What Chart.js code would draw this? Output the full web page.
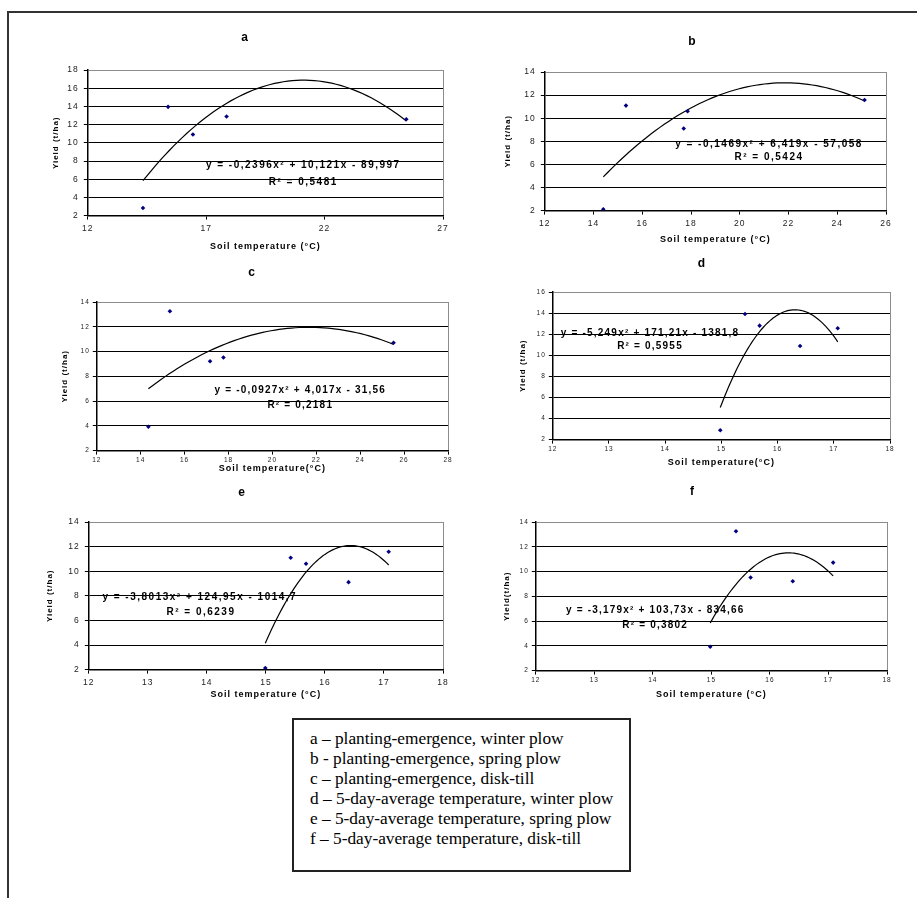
<!DOCTYPE html>
<html>
<head>
<meta charset="utf-8">
<title>Yield vs soil temperature</title>
<script src="https://cdn.jsdelivr.net/npm/chart.js@4.4.1/dist/chart.umd.min.js"></script>
<style>
  body { margin: 0; background: #fff; width: 917px; height: 898px; position: relative; overflow: hidden; }
  .frame { position: absolute; left: 7px; top: 11px; width: 1000px; height: 1000px; border-left: 2px solid #333; border-top: 2px solid #333; }
  canvas.panel { position: absolute; }
  .key {
    position: absolute; left: 292px; top: 718px; width: 339px; height: 154px; box-sizing: border-box;
    border: 2px solid #222; padding: 9px 0 0 16px;
    font-family: "Liberation Serif", "Times New Roman", serif; font-size: 17.3px; line-height: 20px; color: #000;
    white-space: nowrap;
  }
</style>
</head>
<body>
<div class="frame"></div>
<div id="panels"></div>
<div class="key" id="key"></div>

<script>
// Data: soil temperature (°C) vs yield (t/ha)
const aTemp  = [14.33, 15.39, 16.44, 17.86, 25.45];
const aYield = [2.84, 13.95, 10.91, 12.89, 12.59];
const bTemp  = [14.40, 15.33, 17.70, 17.86, 25.12];
const bYield = [2.12, 11.09, 9.11, 10.60, 11.58];
const cTemp  = [14.35, 15.33, 17.16, 17.77, 25.52];
const cYield = [3.93, 13.25, 9.22, 9.52, 10.71];
const dTemp  = [14.98, 15.42, 15.68, 16.40, 17.07];
const dYield = [2.88, 13.92, 12.81, 10.88, 12.56];
const eTemp  = [14.99, 15.42, 15.68, 16.40, 17.08];
const eYield = [2.12, 11.09, 10.60, 9.11, 11.58];
const fTemp  = [14.98, 15.42, 15.67, 16.39, 17.08];
const fYield = [3.93, 13.25, 9.52, 9.22, 10.72];

// Polynomial trend coefficients [x², x, const], as printed on each panel
const aCoef = [-0.2396, 10.121, -89.997];
const bCoef = [-0.1469, 6.419, -57.058];
const cCoef = [-0.0927, 4.017, -31.56];
const dCoef = [-5.249, 171.21, -1381.8];
const eCoef = [-3.8013, 124.95, -1014.7];
const fCoef = [-3.179, 103.73, -834.66];

const aEquation = ['y = -0,2396x² + 10,121x - 89,997', 'R² = 0,5481'];
const bEquation = ['y = -0,1469x² + 6,419x - 57,058', 'R² = 0,5424'];
const cEquation = ['y = -0,0927x² + 4,017x - 31,56', 'R² = 0,2181'];
const dEquation = ['y = -5,249x² + 171,21x - 1381,8', 'R² = 0,5955'];
const eEquation = ['y = -3,8013x² + 124,95x - 1014,7', 'R² = 0,6239'];
const fEquation = ['y = -3,179x² + 103,73x - 834,66', 'R² = 0,3802'];

// Tick labels
const aXTicks = [12, 17, 22, 27];
const bXTicks = [12, 14, 16, 18, 20, 22, 24, 26];
const cXTicks = [12, 14, 16, 18, 20, 22, 24, 26, 28];
const dXTicks = [12, 13, 14, 15, 16, 17, 18];
const eXTicks = [12, 13, 14, 15, 16, 17, 18];
const fXTicks = [12, 13, 14, 15, 16, 17, 18];
const yTicks18 = [2, 4, 6, 8, 10, 12, 14, 16, 18];
const yTicks16 = [2, 4, 6, 8, 10, 12, 14, 16];
const yTicks14 = [2, 4, 6, 8, 10, 12, 14];

const xTitles = ['Soil temperature (°C)', 'Soil temperature (°C)', 'Soil temperature(°C)',
                 'Soil temperature(°C)', 'Soil temperature (°C)', 'Soil temperature (°C)'];
const yTitles = ['Yield (t/ha)', 'Yield (t/ha)', 'Yield (t/ha)', 'Yield (t/ha)', 'Yield (t/ha)', 'Yield(t/ha)'];

const legendLines = [
  'a – planting-emergence, winter plow',
  'b - planting-emergence, spring plow',
  'c – planting-emergence, disk-till',
  'd – 5-day-average temperature, winter plow',
  'e – 5-day-average temperature, spring plow',
  'f – 5-day-average temperature, disk-till'
];

// Layout of each panel: plot area box, title/axis-title positions, label positions (data units)
const panels = [
  { name: 'a', temp: aTemp, yld: aYield, coef: aCoef, eq: aEquation, xTicks: aXTicks, yTicks: yTicks18,
    L: 88, T: 70, R: 443, B: 216, titleY: 38, xTitleY: 247, yTitleX: 56, tickSize: 8.5, tickPad: 4,
    eqSpacing: 1.5, eqPos: [[21.1, 7.5], [21.1, 5.65]] },
  { name: 'b', temp: bTemp, yld: bYield, coef: bCoef, eq: bEquation, xTicks: bXTicks, yTicks: yTicks14,
    L: 545, T: 72, R: 886, B: 211, titleY: 42, xTitleY: 240, yTitleX: 508, tickSize: 8.5, tickPad: 4,
    eqSpacing: 1.5, eqPos: [[21.2, 7.74], [21.2, 6.6]] },
  { name: 'c', temp: cTemp, yld: cYield, coef: cCoef, eq: cEquation, xTicks: cXTicks, yTicks: yTicks14,
    L: 97, T: 302, R: 448, B: 451, titleY: 273, xTitleY: 469, yTitleX: 65, tickSize: 6.5, tickPad: 2,
    eqSpacing: 1.2, eqPos: [[21.27, 6.86], [21.27, 5.7]] },
  { name: 'd', temp: dTemp, yld: dYield, coef: dCoef, eq: dEquation, xTicks: dXTicks, yTicks: yTicks16,
    L: 553, T: 292, R: 890, B: 440, titleY: 264, xTitleY: 463, yTitleX: 523, tickSize: 6.5, tickPad: 2,
    eqSpacing: 1.2, eqPos: [[13.73, 12.1], [13.73, 10.9]] },
  { name: 'e', temp: eTemp, yld: eYield, coef: eCoef, eq: eEquation, xTicks: eXTicks, yTicks: yTicks14,
    L: 89, T: 522, R: 443, B: 670, titleY: 493, xTitleY: 695, yTitleX: 50, tickSize: 8.5, tickPad: 4,
    eqSpacing: 1.5, eqPos: [[13.88, 7.9], [13.9, 6.65]] },
  { name: 'f', temp: fTemp, yld: fYield, coef: fCoef, eq: fEquation, xTicks: fXTicks, yTicks: yTicks14,
    L: 536, T: 522, R: 887, B: 671, titleY: 492, xTitleY: 695, yTitleX: 507, tickSize: 6.5, tickPad: 2,
    eqSpacing: 1.2, eqPos: [[14.04, 6.84], [14.04, 5.68]] }
];

const FONT = '"Liberation Sans", Arial, sans-serif';

// Trend curve drawn from the printed regression equation over the data's x range
function trendPoints(coef, xs) {
  const lo = Math.min(...xs), hi = Math.max(...xs);
  const pts = [];
  for (let i = 0; i <= 60; i++) {
    const x = lo + (hi - lo) * i / 60;
    pts.push({ x: x, y: coef[0] * x * x + coef[1] * x + coef[2] });
  }
  return pts;
}

// Wide letter spacing like the original Excel export
const spacingPlugin = {
  id: 'spacing',
  beforeDraw(chart) { chart.ctx.letterSpacing = '1px'; }
};

// Regression equation + R² text
const equationText = {
  id: 'equationText',
  afterDatasetsDraw(chart, args, opts) {
    const ctx = chart.ctx;
    ctx.save();
    ctx.font = 'bold 10px ' + FONT;
    ctx.letterSpacing = opts.spacing + 'px';
    ctx.fillStyle = '#000';
    ctx.textAlign = 'center';
    ctx.textBaseline = 'middle';
    opts.lines.forEach(l => {
      ctx.fillText(l.text, chart.scales.x.getPixelForValue(l.x), chart.scales.y.getPixelForValue(l.y));
    });
    ctx.restore();
  }
};

function makePanel(p, idx) {
  const canvasLeft = p.yTitleX - 8.8;
  const canvasTop = p.titleY - 12;
  const yw = p.L - canvasLeft;
  const th = p.T - canvasTop;
  const xh = p.xTitleY - p.B + 5.4 + 4;
  const rightPad = 12;
  const w = Math.round(p.R - canvasLeft + rightPad);
  const h = Math.round(p.B - canvasTop + xh);

  const canvas = document.createElement('canvas');
  canvas.className = 'panel';
  canvas.width = w;
  canvas.height = h;
  canvas.style.left = canvasLeft + 'px';
  canvas.style.top = canvasTop + 'px';
  canvas.style.width = w + 'px';
  canvas.style.height = h + 'px';
  document.getElementById('panels').appendChild(canvas);

  const xMin = p.xTicks[0], xMax = p.xTicks[p.xTicks.length - 1];
  const yMin = p.yTicks[0], yMax = p.yTicks[p.yTicks.length - 1];
  const tickFont = { family: FONT, size: p.tickSize };

  new Chart(canvas.getContext('2d'), {
    type: 'scatter',
    data: {
      datasets: [
        {
          data: p.temp.map((t, i) => ({ x: t, y: p.yld[i] })),
          pointStyle: 'rectRot',
          pointRadius: 2.3,
          backgroundColor: '#000080',
          borderColor: '#000080',
          borderWidth: 0
        },
        {
          data: trendPoints(p.coef, p.temp),
          showLine: true,
          pointRadius: 0,
          borderColor: '#000',
          borderWidth: 1.2,
          tension: 0
        }
      ]
    },
    options: {
      responsive: false,
      animation: false,
      devicePixelRatio: 1,
      layout: { padding: { left: 0, top: 0, right: rightPad, bottom: 0 } },
      plugins: {
        legend: { display: false },
        tooltip: { enabled: false },
        title: {
          display: true,
          text: p.name,
          color: '#000',
          font: { family: FONT, size: 12, weight: 'bold' },
          padding: { top: 4.8, bottom: th - 4.8 - 14.4 }
        },
        equationText: {
          spacing: p.eqSpacing,
          lines: [
            { text: p.eq[0], x: p.eqPos[0][0], y: p.eqPos[0][1] },
            { text: p.eq[1], x: p.eqPos[1][0], y: p.eqPos[1][1] }
          ]
        }
      },
      scales: {
        x: {
          type: 'linear',
          min: xMin,
          max: xMax,
          afterBuildTicks: s => { s.ticks = p.xTicks.map(v => ({ value: v })); },
          afterFit: s => { s.height = xh; },
          title: { display: true, text: xTitles[idx], color: '#000', font: { family: FONT, size: 9, weight: 'bold' }, padding: { top: 4, bottom: 4 } },
          ticks: { font: tickFont, color: '#222', padding: p.tickPad, maxRotation: 0 },
          grid: {
            color: c => (c.index === p.xTicks.length - 1 ? '#8c8c8c' : 'rgba(0,0,0,0)'),
            tickColor: '#000',
            tickLength: 4
          },
          border: { color: '#000', width: 1.5 }
        },
        y: {
          type: 'linear',
          min: yMin,
          max: yMax,
          afterBuildTicks: s => { s.ticks = p.yTicks.map(v => ({ value: v })); },
          afterFit: s => { s.width = yw; },
          title: { display: true, text: yTitles[idx], color: '#000', font: { family: FONT, size: 8, weight: 'bold' }, padding: { top: 4, bottom: 4 } },
          ticks: { font: tickFont, color: '#222', padding: p.tickPad + 1 },
          grid: {
            color: c => (c.tick && c.tick.value === yMax ? '#8c8c8c' : '#000'),
            tickColor: '#000',
            tickLength: 4
          },
          border: { color: '#000', width: 1.5 }
        }
      }
    },
    plugins: [spacingPlugin, equationText]
  });
}

panels.forEach(makePanel);

// Key box
const key = document.getElementById('key');
legendLines.forEach(t => {
  const line = document.createElement('div');
  line.textContent = t;
  key.appendChild(line);
});
</script>
</body>
</html>
